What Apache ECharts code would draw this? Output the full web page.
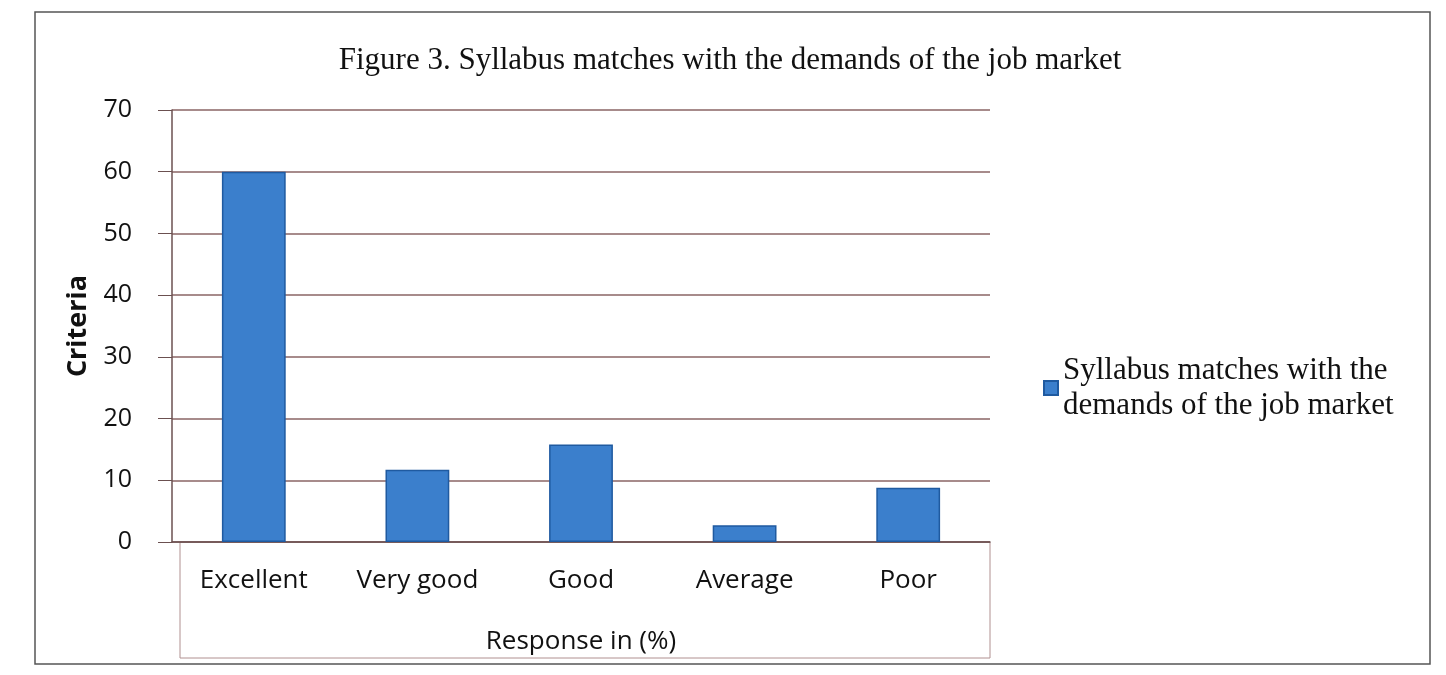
<!DOCTYPE html>
<html>
<head>
<meta charset="utf-8">
<script src="https://cdn.jsdelivr.net/npm/echarts@6/dist/echarts.min.js"></script>
<style>
  html,body{margin:0;padding:0;background:#fff;}
  #main{width:1446px;height:675px;}
</style>
</head>
<body>
<div id="main"></div>
<script>
// data
let categories = ['Excellent', 'Very good', 'Good', 'Average', 'Poor']
let responses = [60, 11.7, 15.8, 2.7, 8.8]
let seriesName = 'Syllabus matches with the\ndemands of the job market'

let chart = echarts.init(document.getElementById('main'))
let option = {
  title: {
    text: 'Figure 3. Syllabus matches with the demands of the job market',
    left: 725,
    top: 40,
    textAlign: 'center',
    textStyle: {
      fontFamily: 'Liberation Serif',
      fontWeight: 'normal',
      fontSize: 31,
      color: '#111'
    }
  },
  legend: {
    left: 1038,
    top: 348,
    orient: 'vertical',
    icon: 'rect',
    itemWidth: 14,
    itemHeight: 14,
    textStyle: {
      fontFamily: 'Liberation Serif',
      fontSize: 31,
      lineHeight: 35,
      color: '#111'
    },
    data: [seriesName]
  },
  grid: {
    left: 172,
    right: 456,
    top: 110,
    bottom: 133
  },
  xAxis: {
    type: 'category',
    data: categories,
    name: 'Response in (%)',
    nameLocation: 'middle',
    nameGap: 87,
    nameTextStyle: {
      fontFamily: 'Open Sans',
      fontSize: 26,
      color: '#111'
    },
    axisLine: { show: true, lineStyle: { color: '#6b5050', width: 1.5 } },
    axisTick: { show: false },
    axisLabel: {
      margin: 26,
      fontFamily: 'Open Sans',
      fontSize: 26,
      color: '#111'
    }
  },
  yAxis: {
    type: 'value',
    min: 0,
    max: 70,
    interval: 10,
    name: 'Criteria',
    nameLocation: 'middle',
    nameGap: 80,
    nameRotate: 90,
    nameTextStyle: {
      fontFamily: 'Open Sans',
      fontWeight: 'bold',
      fontSize: 27,
      color: '#111'
    },
    axisLine: { show: true, lineStyle: { color: '#6b5050', width: 1.5 } },
    axisTick: { show: true, length: 14, lineStyle: { color: '#6b5050' } },
    splitLine: { lineStyle: { color: '#8a6464', width: 1.5 } },
    axisLabel: {
      margin: 40,
      fontFamily: 'Open Sans',
      fontSize: 25,
      color: '#111'
    }
  },
  graphic: [
    {
      type: 'rect',
      shape: { x: 35, y: 12, width: 1395, height: 652 },
      style: { fill: 'none', stroke: '#555', lineWidth: 1.5 },
      silent: true
    },
    {
      type: 'rect',
      shape: { x: 180, y: 542, width: 810, height: 116 },
      style: { fill: 'none', stroke: '#b09090', lineWidth: 1 },
      silent: true
    }
  ],
  series: [
    {
      name: seriesName,
      type: 'bar',
      data: responses,
      barWidth: '39%',
      itemStyle: {
        color: '#3b7fcc',
        borderColor: '#1f5aa0',
        borderWidth: 1.5
      }
    }
  ]
}
chart.setOption(option)
</script>
</body>
</html>
